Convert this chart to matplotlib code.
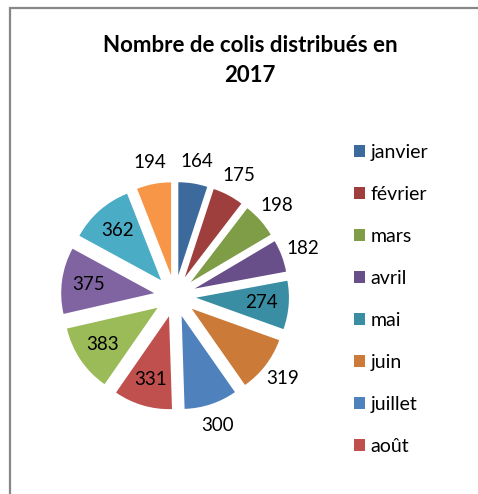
import numpy as np
import matplotlib
matplotlib.use("Agg")
import matplotlib.pyplot as plt
from matplotlib.patches import Patch
from matplotlib.lines import Line2D

mois = ["janvier", "février", "mars", "avril", "mai", "juin",
        "juillet", "août", "septembre", "octobre", "novembre", "décembre"]
colis = [164, 175, 198, 182, 274, 319, 300, 331, 383, 375, 362, 194]

couleurs = ["#3D6A9C", "#9E3F3D", "#7F9C47", "#684F8A", "#3A8EA4", "#CC7A37",
            "#4F81BD", "#C0504D", "#9BBB59", "#8064A2", "#4BACC6", "#F79646"]
# étiquettes placées dans la part (True) ou à l'extérieur (False)
dedans = [False, False, False, False, True, False,
          False, True, True, True, True, False]

plt.rcParams["font.family"] = ["Lato", "DejaVu Sans"]

W, H = 478, 494
fig = plt.figure(figsize=(W / 100, H / 100), dpi=100)

# cadre gris du graphique : seuls les bords haut et gauche sont visibles
x0, y0 = 9.5 / W, 1 - 8 / H
fig.add_artist(Line2D([x0, x0, 1.0], [0.0, y0, y0], transform=fig.transFigure,
                      color="#878787", linewidth=1.6, solid_joinstyle="miter"))

fig.text(250 / W, 1 - 45 / H, "Nombre de colis distribués en",
         ha="center", va="center", fontsize=16, fontweight="bold")
fig.text(250 / W, 1 - 76 / H, "2017",
         ha="center", va="center", fontsize=16, fontweight="bold")

cx, cy, half = 175, 296, 140
ax = fig.add_axes([(cx - half) / W, (H - cy - half) / H, 2 * half / W, 2 * half / H])
expl = 0.21
wedges, _ = ax.pie(colis, colors=couleurs, startangle=90, counterclock=False,
                   radius=0.93, explode=[expl] * len(colis),
                   wedgeprops=dict(linewidth=0))
ax.set_xlim(-1.4, 1.4)
ax.set_ylim(-1.4, 1.4)
ax.axis("off")

for w, v, inside in zip(wedges, colis, dedans):
    ang = np.deg2rad((w.theta1 + w.theta2) / 2)
    d = 0.87 if inside else 1.36
    ax.text(d * np.cos(ang), d * np.sin(ang), str(v), ha="center", va="center",
            fontsize=13.5, color="black")

handles = [Patch(facecolor=c, edgecolor="none") for c in couleurs[:8]]
fig.legend(handles, mois[:8], loc="upper left",
           bbox_to_anchor=(344 / W, 1 - 134 / H), frameon=False,
           fontsize=14, handlelength=0.58, handleheight=0.58,
           handletextpad=0.3, labelspacing=1.29, borderpad=0)

fig.savefig("out.png", dpi=100)
